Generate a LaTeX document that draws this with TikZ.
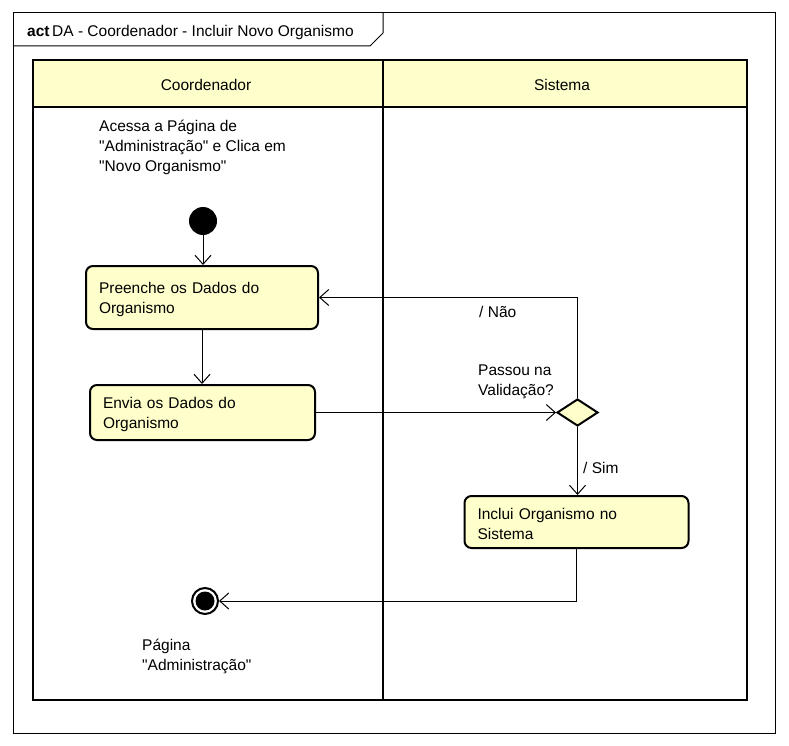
\documentclass[tikz,border=0pt]{standalone}
\usepackage{fontspec}
\newfontfamily\umlfont{Liberation Sans}
\usetikzlibrary{arrows.meta,shapes.geometric}
\definecolor{umlyellow}{HTML}{FFFFCC}
\begin{document}
\begin{tikzpicture}[x=1pt,y=-1pt,
  every node/.style={font=\umlfont\fontsize{15.5}{20}\selectfont},
  actbox/.style={draw, line width=2pt, rounded corners=7pt, fill=umlyellow,
    align=left, inner xsep=13pt, inner ysep=0pt,
    execute at begin node={\rule{0pt}{15.5pt}}},
  lbl/.style={anchor=north west, inner sep=0pt, align=left},
  arr/.style={-{Straight Barb[length=9pt,width=16pt,line width=1pt]}, line width=1pt},
  lane/.style={line width=2.5pt}]
\useasboundingbox (0,0) rectangle (789,746);
% outer frame
\draw[line width=1pt] (13,13) rectangle (775,733);
\draw[line width=1pt] (13,46) -- (370,46) -- (383,33) -- (383,13);
\node[lbl] (title) at (27,25) {\textbf{act}\,DA - Coordenador - Incluir Novo Organismo};
% swimlanes
\fill[umlyellow] (33,60) rectangle (747,107);
\draw[lane] (33,60) rectangle (747,700);
\draw[lane] (33,107) -- (747,107);
\draw[lane] (383,60) -- (383,700);
\node (laneA) at (206,85) {Coordenador};
\node (laneB) at (562,85) {Sistema};
% nodes
\node[lbl] (note) at (99,120) {Acessa a Página de\\"Administração" e Clica em\\"Novo Organismo"};
\node[circle, fill=black, minimum size=28pt, inner sep=0pt] (init) at (203,221) {};
\node[actbox, text width=206pt, minimum height=63pt] (preenche) at (202,297.5) {Preenche os Dados do\\Organismo};
\node[actbox, text width=199pt, minimum height=55pt] (envia) at (202.5,412.5) {Envia os Dados do\\Organismo};
\node[diamond, draw, line width=2pt, fill=umlyellow, minimum width=41pt, minimum height=27pt, inner sep=0pt] (dec) at (577.5,412.5) {};
\node[lbl] (declbl) at (478,365) {Passou na\\Validação?};
\node[actbox, text width=198pt, minimum height=52pt] (inclui) at (576.5,522) {Inclui Organismo no\\Sistema};
\node[circle, draw, line width=2pt, minimum size=26pt, inner sep=0pt,
  path picture={\fill (path picture bounding box.center) circle (9.5pt);}] (final) at (205,601) {};
\node[lbl] (finlbl) at (142,639) {Página\\"Administração"};
% connectors
\draw[arr] (init) -- (init |- preenche.north);
\draw[arr] (preenche.south) -- (preenche.south |- envia.north);
\draw[arr] (envia.east) -- (dec.west);
\draw[arr] (dec.north) |- (preenche.east);
\node[lbl] (nao) at (479,306) {/ Não};
\draw[arr] (dec.south) -- (dec.south |- inclui.north);
\node[lbl] (sim) at (583,462) {/ Sim};
\draw[arr] (inclui.south) |- (final.east);
\end{tikzpicture}
\end{document}
